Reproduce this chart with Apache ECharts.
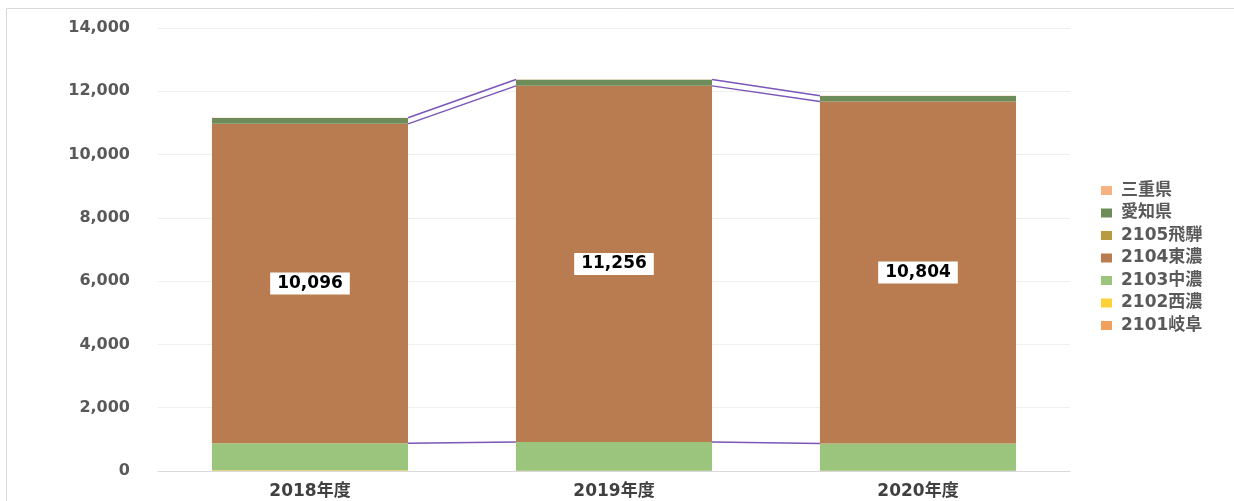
<!DOCTYPE html>
<html><head><meta charset="utf-8">
<script src="https://cdn.jsdelivr.net/npm/echarts@6/dist/echarts.min.js"></script>
<style>html,body{margin:0;padding:0;background:#fff}#c{width:1234px;height:501px}</style>
</head><body><div id="c"></div>
<script>
var categories = ['2018年度', '2019年度', '2020年度'];
var s2101 = [5, 0, 0];
var s2102 = [20, 5, 5];
var s2103 = [850, 910, 865];
var s2104 = [10096, 11256, 10804];
var s2105 = [5, 5, 5];
var sAichi = [180, 185, 170];
var sMie = [10, 10, 10];
var yTicks = [0, 2000, 4000, 6000, 8000, 10000, 12000, 14000];

var seriesDefs = [
  {name: '2101岐阜', data: s2101, color: '#f0a15e'},
  {name: '2102西濃', data: s2102, color: '#fdd137'},
  {name: '2103中濃', data: s2103, color: '#9bc47d'},
  {name: '2104東濃', data: s2104, color: '#b87c50', label: true},
  {name: '2105飛騨', data: s2105, color: '#b99a42'},
  {name: '愛知県', data: sAichi, color: '#6e8c59'},
  {name: '三重県', data: sMie, color: '#f6b282'}
];

// cumulative tops for series lines
function cum(upto) {
  return categories.map(function (c, i) {
    var s = 0;
    for (var k = 0; k <= upto; k++) s += seriesDefs[k].data[i];
    return s;
  });
}
var lineLevels = [cum(2), cum(3), cum(6)];
var connData = [];
lineLevels.forEach(function (lv) {
  for (var i = 0; i < categories.length - 1; i++) connData.push([i, lv[i], lv[i + 1]]);
});

var font = '"DejaVu Sans", "Noto Sans CJK JP", sans-serif';
var BAR_RATIO = 0.645;

var series = seriesDefs.map(function (d) {
  var s = {
    name: d.name, type: 'bar', stack: 'total', data: d.data, barWidth: '64.5%',
    itemStyle: {color: d.color}
  };
  if (d.label) {
    s.label = {
      show: true, position: 'inside', color: '#000', fontWeight: 'bold', fontSize: 17,
      fontFamily: font, backgroundColor: '#fff', padding: [3, 7, 2, 7],
      formatter: function (p) { return p.value.toLocaleString('en-US'); }
    };
  }
  return s;
});
series.push({
  type: 'custom', name: 'lines', coordinateSystem: 'cartesian2d', silent: true, z: 5,
  encode: {x: 0, y: [1, 2]},
  data: connData,
  renderItem: function (params, api) {
    var i = api.value(0);
    var p1 = api.coord([i, api.value(1)]);
    var p2 = api.coord([i + 1, api.value(2)]);
    var half = api.size([1, 0])[0] * BAR_RATIO / 2;
    return {
      type: 'line',
      shape: {x1: p1[0] + half, y1: p1[1], x2: p2[0] - half, y2: p2[1]},
      style: {stroke: '#7b55b8', lineWidth: 1.5}
    };
  }
});

var chart = echarts.init(document.getElementById('c'));
chart.setOption({
  animation: false,
  backgroundColor: '#fff',
  graphic: [{type: 'rect', shape: {x: 6.5, y: 8.5, width: 1240, height: 500}, style: {fill: 'none', stroke: '#d9d9d9', lineWidth: 1}, silent: true, z: -1}],
  grid: {left: 158, right: 164, top: 28, bottom: 30},
  legend: {
    orient: 'vertical', left: 1096, top: 177, itemWidth: 11, itemHeight: 9, itemGap: 5.5,
    icon: 'rect',
    textStyle: {fontSize: 17, color: '#595959', fontWeight: 'bold', fontFamily: font, padding: [0, 0, 0, 4]},
    data: ['三重県', '愛知県', '2105飛騨', '2104東濃', '2103中濃', '2102西濃', '2101岐阜']
  },
  xAxis: {
    type: 'category', data: categories,
    axisLine: {lineStyle: {color: '#d9d9d9'}}, axisTick: {show: false},
    axisLabel: {color: '#404040', fontSize: 17, fontWeight: 'bold', fontFamily: font, margin: 12}
  },
  yAxis: {
    type: 'value', min: yTicks[0], max: yTicks[yTicks.length - 1], interval: 2000,
    axisLine: {show: false}, axisTick: {show: false},
    splitLine: {lineStyle: {color: '#efefef'}},
    axisLabel: {color: '#595959', fontSize: 16, fontWeight: 'bold', fontFamily: font, margin: 28,
      formatter: function (v) { return v.toLocaleString('en-US'); }}
  },
  series: series
});
</script></body></html>
